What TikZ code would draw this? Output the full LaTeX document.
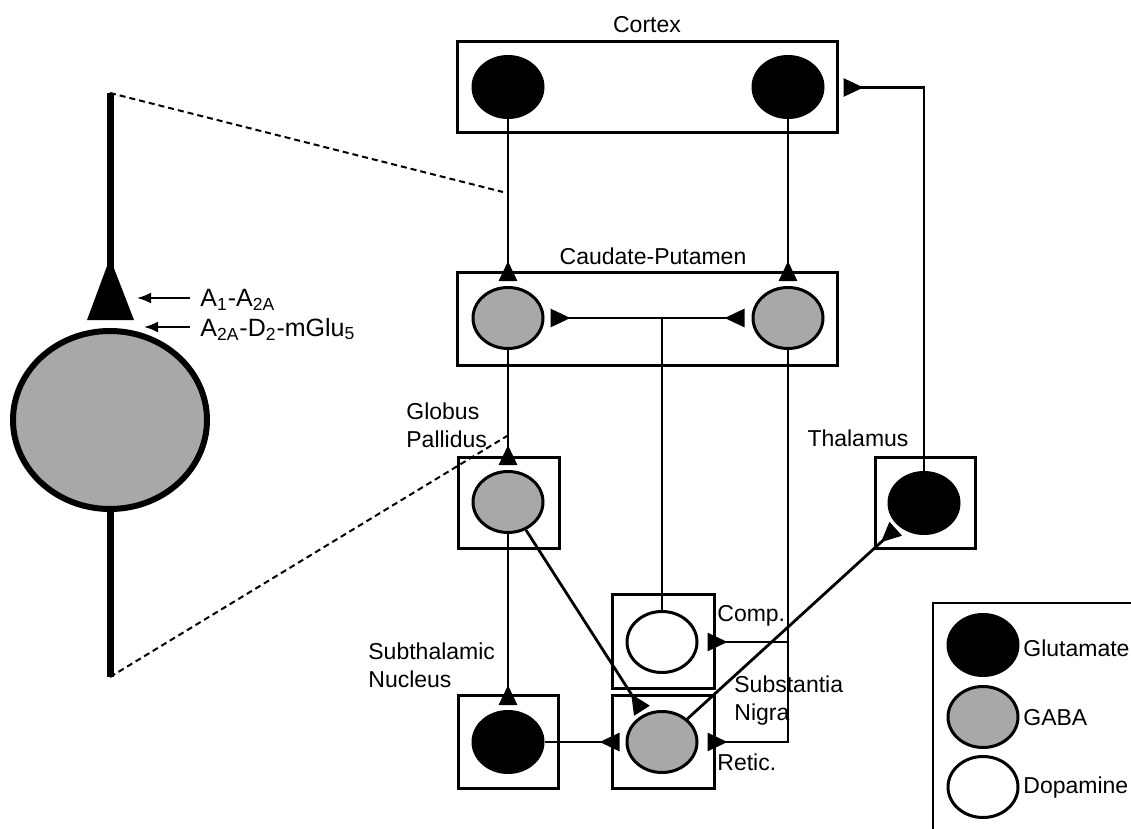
\documentclass[tikz,border=0pt]{standalone}
\usepackage{fontspec}
\setmainfont{Liberation Sans}
\usetikzlibrary{arrows.meta,shapes.geometric}
\definecolor{gabagray}{RGB}{168,168,168}
\begin{document}
\begin{tikzpicture}[x=0.5pt,y=-0.5pt,
  neuron/.style={ellipse, draw, line width=1.5pt, minimum width=35pt, minimum height=30.5pt, inner sep=0pt},
  glu/.style={neuron, fill=black},
  gaba/.style={neuron, fill=gabagray},
  dopa/.style={neuron, fill=white},
  region/.style={rectangle, draw, line width=1.5pt, inner sep=0pt},
  lbl/.style={font=\fontsize{11.5}{14}\selectfont, inner sep=0pt},
  syn/.style={line width=1.4pt, -{Triangle[reversed,length=10pt,width=9pt]}, shorten >=2.5pt},
  conn/.style={line width=1.4pt},
  zoomline/.style={line width=1pt, dash pattern=on 3pt off 2pt},
  recarrow/.style={line width=1pt, -{Latex[length=7pt,width=5.5pt]}}
]
\useasboundingbox (0,0) rectangle (1131,829);
\clip (0,0) rectangle (1131,829);
\fill[white] (0,0) rectangle (1131,829);

% ---------- enlarged neuron ----------
\coordinate (dtop) at (110,93);
\coordinate (dbot) at (110,677);
\coordinate (ztop) at (503,192);
\coordinate (zbot) at (507,436);
\draw[line width=3.5pt] (dtop) -- (110,268);
\fill (110,258) -- (134,320) -- (87,320) -- cycle;
\node[ellipse, draw, line width=3pt, fill=gabagray, minimum width=97pt, minimum height=89pt, inner sep=0pt] (soma) at (110,420) {};
\draw[line width=3.5pt] (soma.south) -- (dbot);
\draw[zoomline] (dtop) -- (ztop);
\draw[zoomline] (dbot) -- (zbot);

\node[lbl, font=\fontsize{12.5}{15}\selectfont, anchor=west] (a1) at (200,300) {A\textsubscript{1}-A\textsubscript{2A}};
\node[lbl, font=\fontsize{12.5}{15}\selectfont, anchor=west] (a2) at (200,329) {A\textsubscript{2A}-D\textsubscript{2}-mGlu\textsubscript{5}};
\coordinate (a1s) at (190,298);
\coordinate (a1t) at (137,298);
\coordinate (a2s) at (190,327);
\coordinate (a2t) at (144,327);
\draw[recarrow] (a1s) -- (a1t);
\draw[recarrow] (a2s) -- (a2t);

% ---------- region boxes ----------
\node[region, minimum width=190pt, minimum height=45.5pt] (cortex) at (647,87.5) {};
\node[region, minimum width=190pt, minimum height=46.5pt] (cp) at (647,318.5) {};
\node[region, minimum width=50.5pt, minimum height=45.5pt] (gpbox) at (508.5,502.5) {};
\node[region, minimum width=50pt, minimum height=46.5pt] (stnbox) at (508,741.5) {};
\node[region, minimum width=51pt, minimum height=47pt] (compbox) at (663,641) {};
\node[region, minimum width=51pt, minimum height=46.5pt] (snrbox) at (663,741.5) {};
\node[region, minimum width=50pt, minimum height=45.5pt] (thbox) at (925,502.5) {};

% ---------- labels ----------
\node[lbl] (lctx) at (647,25) {Cortex};
\node[lbl] (lcp) at (653,256) {Caudate-Putamen};
\node[lbl, anchor=north west, align=left] (lgp) at (406,402) {Globus\\Pallidus};
\node[lbl] (lth) at (858,438) {Thalamus};
\node[lbl, anchor=north west, align=left] (lstn) at (368,642) {Subthalamic\\Nucleus};
\node[lbl, anchor=west] (lcomp) at (717,616) {Comp.};
\node[lbl, anchor=north west, align=left] (lsn) at (734,675) {Substantia\\Nigra};
\node[lbl, anchor=west] (lret) at (717,762) {Retic.};

% ---------- neurons ----------
\node[glu] (ctxL) at (508,87) {};
\node[glu] (ctxR) at (788,87) {};
\node[gaba] (cpL) at (508,318) {};
\node[gaba] (cpR) at (788,318) {};
\node[gaba] (gp) at (508,502) {};
\node[glu] (stn) at (508,742) {};
\node[dopa] (comp) at (662,642) {};
\node[gaba] (snr) at (662,742) {};
\node[glu] (th) at (924,503) {};

% ---------- connectors ----------
\coordinate (mid) at (662,318);
\coordinate (br) at (788,642);
\draw[syn] (ctxL) -- (cpL);
\draw[syn] (ctxR) -- (cpR);
\draw[syn, shorten >=3pt] (mid) -- (cpL);
\draw[syn, shorten >=3.5pt] (mid) -- (cpR);
\draw[conn] (mid) -- (comp);
\draw[syn] (cpL) -- (gp);
\draw[syn, shorten >=4.5pt] (cpR) |- (snr);
\draw[syn, shorten >=4.5pt] (br) -- (comp);
\draw[syn] (gp) -- (stn);
\draw[syn, shorten >=2pt] (gp) -- (snr);
\draw[syn, shorten >=3pt] (stn) -- (snr);
\draw[syn, shorten >=2pt] (snr) -- (th);
\draw[syn] (th) |- (cortex);

% ---------- legend ----------
\node[region, line width=1pt, anchor=north west, minimum width=109pt, minimum height=124pt] (legend) at (932,602) {};
\node[glu] (lgglu) at (983,645) {};
\node[gaba] (lggaba) at (983,717) {};
\node[dopa] (lgdopa) at (983,787) {};
\node[lbl, anchor=west] (tglu) at (1023,648) {Glutamate};
\node[lbl, anchor=west] (tgaba) at (1023,718) {GABA};
\node[lbl, anchor=west] (tdopa) at (1023,788) {Dopamine};
\end{tikzpicture}
\end{document}
